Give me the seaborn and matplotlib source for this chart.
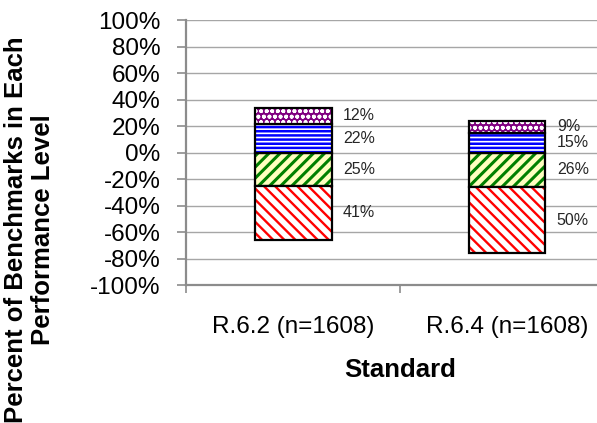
import numpy as np
import pandas as pd
import matplotlib
matplotlib.use("Agg")
import matplotlib.pyplot as plt
import seaborn as sns
from matplotlib.ticker import FixedLocator

# ---------------- data ----------------
categories = ["R.6.2 (n=1608)", "R.6.4 (n=1608)"]
# below zero (stacked downward from 0)
green_vals = [25, 26]
red_vals = [41, 50]
# above zero (stacked upward from 0)
blue_vals = [22, 15]
purple_vals = [12, 9]
yticks = [-100, -80, -60, -40, -20, 0, 20, 40, 60, 80, 100]
ytick_labels = [f"{v}%" for v in yticks]
x_label = "Standard"
y_label = "Percent of Benchmarks in Each\nPerformance Level"

# ---------------- style ----------------
sns.set_style("white")
plt.rcParams["font.family"] = ["Liberation Sans", "DejaVu Sans"]
plt.rcParams["hatch.linewidth"] = 2.0

fig = plt.figure(figsize=(5.97, 4.23), dpi=100)
ax = fig.add_axes([0.3121, 0.3258, 0.7159, 0.6264])

bar_w = 0.359
axis_gray = "#8c8c8c"
grid_gray = "#a6a6a6"

green = np.array(green_vals, dtype=float)
red = np.array(red_vals, dtype=float)
blue = np.array(blue_vals, dtype=float)
purple = np.array(purple_vals, dtype=float)

segments = [
    # signed values, bottoms, face, hatch colour, hatch, hatch lw
    (-green, np.zeros(2), "#ffffc0", "#008000", "///", 2.2),
    (-red, -green, "#ffffff", "#ff0000", "\\\\\\", 1.7),
    (blue, np.zeros(2), "#ffffff", "#0000ff", "----", 1.8),
    (purple, blue, "#800080", "#ffffff", "ooo", 1.2),
]

for vals, bottoms, face, hcol, hatch, hlw in segments:
    n0 = len(ax.patches)
    sns.barplot(x=categories, y=vals, order=categories, bottom=bottoms,
                color=face, saturation=1, width=bar_w, errorbar=None,
                ax=ax, linewidth=0)
    for p in ax.patches[n0:]:
        p.set_facecolor(face)
        p.set_edgecolor(hcol)
        p.set_linewidth(0)
        p.set_hatch(hatch)
        try:
            p.set_hatch_linewidth(hlw)
        except AttributeError:
            pass
    n1 = len(ax.patches)
    sns.barplot(x=categories, y=vals, order=categories, bottom=bottoms,
                color=face, saturation=1, width=bar_w, errorbar=None,
                ax=ax, linewidth=1.5)
    for p in ax.patches[n1:]:
        p.set_facecolor("none")
        p.set_edgecolor("black")
        p.set_linewidth(1.6)
        p.set_hatch(None)
    for i in range(len(categories)):
        ax.text(i + bar_w / 2 + 0.054, bottoms[i] + vals[i] / 2,
                f"{abs(int(vals[i]))}%", ha="left", va="center",
                fontsize=11.5, color="#262626")

# ---------------- axes ----------------
ax.set_ylim(-100, 100)
ax.set_xlim(-0.5, len(categories) - 0.5)
ax.set_yticks(yticks)
ax.set_yticklabels(ytick_labels, fontsize=17.5, color="black")
ax.set_xticks(range(len(categories)))
ax.set_xticklabels(categories, fontsize=17.5, color="black")
ax.xaxis.set_minor_locator(FixedLocator([-0.5, 0.5, 1.5]))

ax.tick_params(axis="y", which="major", length=6.2, width=1.2,
               color=axis_gray, pad=12.5, direction="out", left=True)
ax.tick_params(axis="x", which="major", length=0, pad=22)
ax.tick_params(axis="x", which="minor", length=6, width=1.2,
               color=axis_gray, direction="out", bottom=True)

ax.set_axisbelow(True)
ax.yaxis.grid(True, color=grid_gray, linewidth=1.0)
ax.xaxis.grid(False)

for s in ["top", "right"]:
    ax.spines[s].set_visible(False)
for s in ["left", "bottom"]:
    ax.spines[s].set_color(axis_gray)
    ax.spines[s].set_linewidth(1.6)

ax.set_ylabel(y_label, fontsize=18.5, fontweight="bold", va="center",
              linespacing=1.15, color="black")
ax.yaxis.set_label_coords(-0.366, 0.208)
ax.set_xlabel(x_label, fontsize=18.5, fontweight="bold", va="center",
              color="black")
ax.xaxis.set_label_coords(0.5, -0.32)

fig.savefig("out.png", dpi=100)
